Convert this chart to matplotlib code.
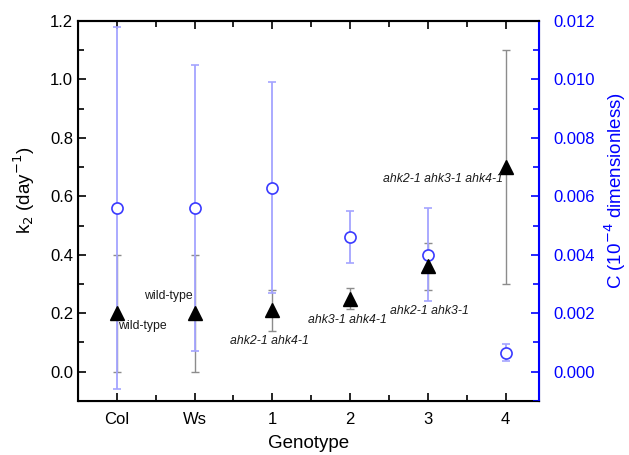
import numpy as np
import matplotlib
matplotlib.use('Agg')
import matplotlib.pyplot as plt
from matplotlib.ticker import MultipleLocator, FormatStrFormatter

plt.rcParams['font.family'] = ['Liberation Sans', 'DejaVu Sans']

genotypes = ['Col', 'Ws', '1', '2', '3', '4']
k2 = [0.20, 0.20, 0.21, 0.25, 0.36, 0.70]
k2_err = [0.20, 0.20, 0.07, 0.035, 0.08, 0.40]
c_vals = [0.0056, 0.0056, 0.0063, 0.0046, 0.0040, 0.00065]
c_err = [0.0062, 0.0049, 0.0036, 0.0009, 0.0016, 0.0003]
labels = ['wild-type', 'wild-type', 'ahk2-1 ahk4-1', 'ahk3-1 ahk4-1',
          'ahk2-1 ahk3-1', 'ahk2-1 ahk3-1 ahk4-1']

x = np.arange(len(genotypes))

fig = plt.figure(figsize=(6.29, 4.55), dpi=100)
ax = fig.add_axes([0.124, 0.119, 0.733, 0.835])
ax2 = ax.twinx()

# k2 error bars (grey) underneath
ax.errorbar(x, k2, yerr=k2_err, fmt='none', ecolor='#8c8c8c', elinewidth=1,
            capsize=3, capthick=1)

# C series (open blue circles, light blue error bars)
ax2.errorbar(x, c_vals, yerr=c_err, fmt='o', mfc='white', mec='#3a3aff',
             mew=1.2, ms=8, ecolor='#a4a4ff', elinewidth=1.3, capsize=3,
             capthick=1.3, zorder=3)

# k2 triangles on top of everything
ax2.plot(x, k2, '^', color='black', ms=9.5, transform=ax.transData, zorder=5)

ax.set_xlim(-0.5, 5.43)
ax.set_ylim(-0.1, 1.2)
ax2.set_ylim(-0.001, 0.012)

ax.set_xticks(x)
ax.set_xticklabels(genotypes)
ax.xaxis.set_minor_locator(MultipleLocator(0.5))
ax.set_yticks(np.arange(0, 1.21, 0.2))
ax.yaxis.set_minor_locator(MultipleLocator(0.1))
ax.yaxis.set_major_formatter(FormatStrFormatter('%.1f'))
ax2.set_yticks(np.arange(0, 0.0121, 0.002))
ax2.yaxis.set_minor_locator(MultipleLocator(0.001))
ax2.yaxis.set_major_formatter(FormatStrFormatter('%.3f'))

ax.tick_params(axis='x', which='both', direction='in', top=True, labelsize=12,
               pad=8)
ax.tick_params(axis='x', which='major', length=6, width=1.2)
ax.tick_params(axis='x', which='minor', length=4, width=1.2)
ax.tick_params(axis='y', which='major', direction='in', length=6, width=1.2,
               labelsize=12, right=False)
ax.tick_params(axis='y', which='minor', direction='in', length=4, width=1.2,
               right=False)
ax2.tick_params(axis='y', which='major', direction='in', length=6, width=1.2,
                colors='#0000ff', labelsize=12, pad=10)
ax2.tick_params(axis='y', which='minor', direction='in', length=4, width=1.2,
                colors='#0000ff')

for s in ['left', 'bottom', 'top']:
    ax.spines[s].set_linewidth(1.5)
ax2.spines['right'].set_color('#0000ff')
ax2.spines['right'].set_linewidth(1.5)
ax2.spines['top'].set_linewidth(1.5)

ax.set_xlabel('Genotype', fontsize=13.5, labelpad=6)
ax.set_ylabel('k$_2$ (day$^{-1}$)', fontsize=13.5)
ax.yaxis.set_label_coords(-0.09, 0.555)
ax2.set_ylabel('C (10$^{-4}$ dimensionless)', fontsize=13.5, color='#0000ff')
ax2.yaxis.set_label_coords(1.138, 0.555)

# genotype annotations
ann = [(0.01, 0.155, 'left', 'normal'),
       (0.97, 0.258, 'right', 'normal'),
       (1.965, 0.105, 'center', 'italic'),
       (2.97, 0.176, 'center', 'italic'),
       (4.02, 0.206, 'center', 'italic'),
       (4.96, 0.659, 'right', 'italic')]
for (tx, ty, ha, st), lab in zip(ann, labels):
    ax2.text(tx, ty, lab, ha=ha, va='center', fontsize=8.8, style=st,
             color='#1a1a1a', transform=ax.transData, zorder=6)

fig.savefig('out.png', dpi=100)
